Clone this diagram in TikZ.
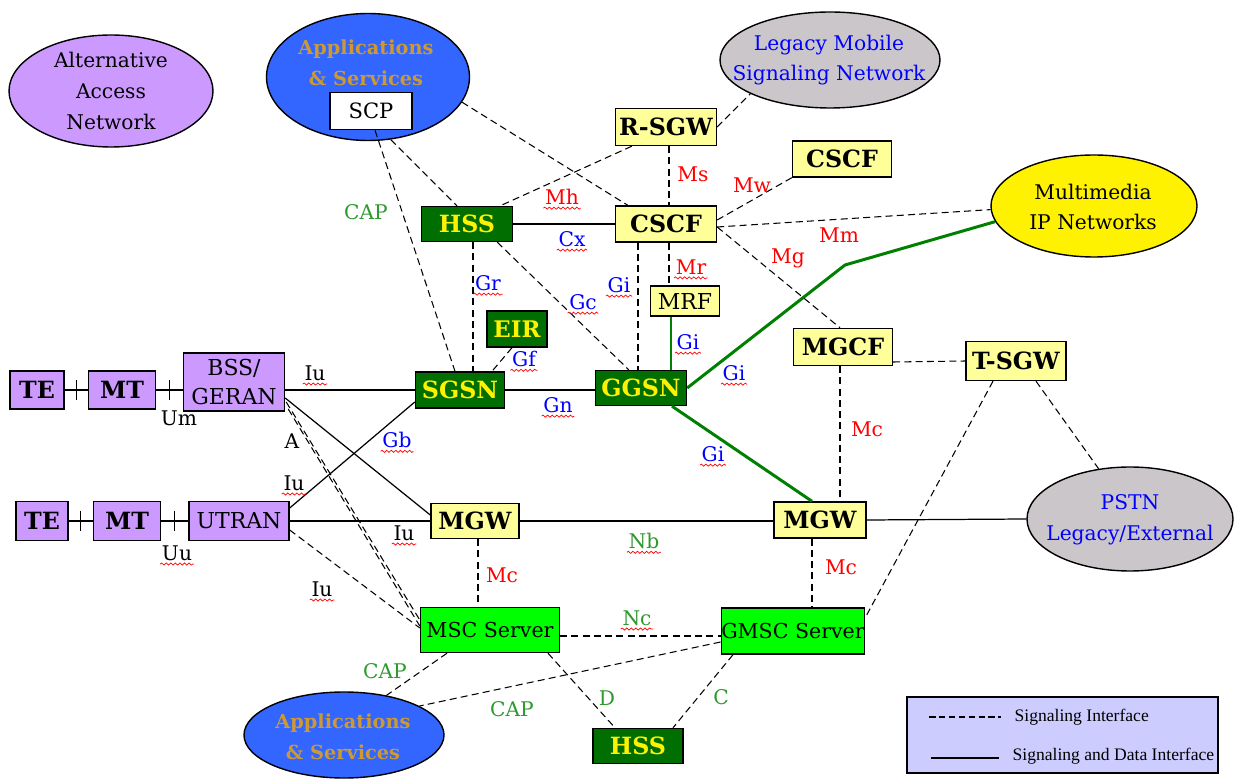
\documentclass[tikz,border=0pt]{standalone}
\usepackage{fontspec}
\setmainfont{DejaVu Serif}
\newfontfamily\legendfont{Liberation Serif}
\usetikzlibrary{shapes.geometric,decorations.pathmorphing,calc}

\definecolor{lilac}{HTML}{CC99FF}
\definecolor{paleyel}{HTML}{FFFF99}
\definecolor{darkgrn}{HTML}{006E00}
\definecolor{brightgrn}{HTML}{00FF00}
\definecolor{appblue}{HTML}{3366FF}
\definecolor{appgold}{HTML}{CC9933}
\definecolor{legacygray}{HTML}{CAC6CA}
\definecolor{legendbg}{HTML}{CCCCFF}
\definecolor{linkgrn}{HTML}{008000}
\definecolor{lblred}{HTML}{FF0000}
\definecolor{lblblue}{HTML}{0000FF}
\definecolor{lblgrn}{HTML}{2E9A2E}

\newcommand\ptsize[2]{\fontsize{#1}{#2}\selectfont}

\tikzset{
  box/.style={draw, line width=0.8pt, inner sep=0pt, align=center},
  sz/.style 2 args={minimum width=#1*0.02cm, minimum height=#2*0.02cm},
  boldtxt/.style={font=\bfseries\ptsize{13.5}{16}},
  regtxt/.style={font=\ptsize{12.5}{16.5}},
  purplebox/.style={box, fill=lilac},
  palebox/.style={box, fill=paleyel},
  darkbox/.style={box, fill=darkgrn, text=yellow, font=\bfseries\ptsize{13.5}{16}},
  mscbox/.style={box, fill=brightgrn, font=\ptsize{11.7}{14}},
  blob/.style={ellipse, draw, line width=0.8pt, inner sep=0pt},
  blobtxt/.style={align=center, inner sep=0pt, font=\ptsize{11.5}{17.5}},
  apptxt/.style={blobtxt, text=appgold, font=\bfseries\ptsize{11}{17.5}},
  sig/.style={draw, line width=0.6pt, dash pattern=on 4pt off 2.4pt},
  data/.style={draw, line width=0.7pt},
  gilink/.style={draw=linkgrn, line width=1.7pt},
  lbl/.style={inner sep=0.8pt, font=\ptsize{11.5}{13}},
  rlab/.style={lbl, text=lblred},
  blab/.style={lbl, text=lblblue},
  glab/.style={lbl, text=lblgrn},
  klab/.style={lbl, text=black},
  wavy/.style={draw=lblred, line width=0.4pt, decorate,
    decoration={snake, amplitude=0.6pt, segment length=2.6pt}},
  spell/.style={append after command={([yshift=-1pt]\tikzlastnode.south west)
    edge[wavy] ([yshift=-1pt]\tikzlastnode.south east)}}
}

\begin{document}
\begin{tikzpicture}[x=0.02cm, y=-0.02cm]
\fill[white] (0,0) rectangle (1255,780);
\useasboundingbox (0,0) rectangle (1255,780);

% ---------- clouds ----------
\node[blob, fill=lilac, sz={204}{112}] (aan) at (111,91) {};
\node[blobtxt] (aant) at (111,91) {Alternative\\Access\\Network};

\node[blob, fill=appblue, sz={203}{127}] (apps1) at (368,77) {};
\node[apptxt] (apps1t) at (366,63) {Applications\\\& Services};
\node[box, fill=white, sz={82}{37}, font=\ptsize{12}{14}] (scp) at (371,111) {SCP};

\node[blob, fill=legacygray, sz={220}{96}] (legacy) at (830,60) {};
\node[blobtxt, text=lblblue] (legacyt) at (829,60) {Legacy Mobile\\Signaling Network};

\node[blob, fill=yellow, sz={206}{102}] (multi) at (1094,206) {};
\node[blobtxt] (multit) at (1093,207) {Multimedia\\IP Networks};

\node[blob, fill=legacygray, sz={206}{104}] (pstn) at (1130,519) {};
\node[blobtxt, text=lblblue] (pstnt) at (1130,520) {PSTN\\Legacy/External};

\node[blob, fill=appblue, sz={200}{86}] (apps2) at (344,735) {};
\node[apptxt] (apps2t) at (343,737) {Applications\\\& Services};

% ---------- access side ----------
\node[purplebox, boldtxt, sz={54}{38}] (te1) at (37,390) {TE};
\node[purplebox, boldtxt, sz={67}{38}] (mt1) at (122,390) {MT};
\node[purplebox, regtxt, sz={101}{58}] (bss) at (234,382) {BSS/\\GERAN};
\node[purplebox, boldtxt, sz={52}{39}] (te2) at (42,521) {TE};
\node[purplebox, boldtxt, sz={67}{39}] (mt2) at (127,521) {MT};
\node[purplebox, regtxt, sz={100}{39}] (utran) at (239,521) {UTRAN};

% ---------- core boxes ----------
\node[darkbox, sz={91}{35}] (hss1) at (467,224) {HSS};
\node[darkbox, sz={60}{36}, font=\bfseries\ptsize{13}{15}] (eir) at (517,329) {EIR};
\node[darkbox, sz={89}{36}] (sgsn) at (460,390) {SGSN};
\node[darkbox, sz={91}{35}] (ggsn) at (641,388) {GGSN};
\node[darkbox, sz={90}{35}] (hss2) at (638,746) {HSS};

\node[palebox, boldtxt, sz={101}{37}] (rsgw) at (666,127) {R-SGW};
\node[palebox, boldtxt, sz={99}{36}] (cscf2) at (842,159) {CSCF};
\node[palebox, boldtxt, sz={101}{36}] (cscf) at (666,224) {CSCF};
\node[palebox, regtxt, sz={69}{30}] (mrf) at (685,301) {MRF};
\node[palebox, boldtxt, sz={99}{37}] (mgcf) at (843,347) {MGCF};
\node[palebox, boldtxt, sz={100}{39}] (tsgw) at (1016,361) {T-SGW};
\node[palebox, boldtxt, sz={88}{35}] (mgw1) at (475,521) {MGW};
\node[palebox, boldtxt, sz={92}{36}] (mgw2) at (820,520) {MGW};

\node[mscbox, sz={139}{45}] (msc) at (490,630) {MSC Server};
\node[mscbox, sz={143}{46}] (gmsc) at (793,631) {GMSC Server};

% ---------- radio links with their ticks ----------
\draw[data] (te1) -- (mt1);
\draw[data] (mt1.east) -- (mt1.east -| bss.west);
\draw[data] (te2) -- (mt2);
\draw[data] (mt2) -- (utran);
\draw[data] ($(te1.east)!.5!(mt1.west)$) ++(0,-10) -- ++(0,20);
\draw[data] ($(mt1.east)!.5!(mt1.east -| bss.west)$) ++(0,-10) -- ++(0,20);
\draw[data] ($(te2.east)!.5!(mt2.west)$) ++(0,-10) -- ++(0,20);
\draw[data] ($(mt2.east)!.5!(utran.west)$) ++(0,-10) -- ++(0,20);

% ---------- signaling and data links ----------
\draw[data] (sgsn.west -| bss.east) -- (sgsn.west);
\draw[data] ($(bss.east)+(0,16)$) -- ($(mgw1.west)+(0,-6)$);
\draw[data] ($(utran.east)+(0,-13)$) -- ($(sgsn.west)+(0,12)$);
\draw[data] (utran.east) -- (mgw1.west);
\draw[data] (hss1.east) -- (cscf.west);
\draw[data] (sgsn.east) -- (sgsn.east -| ggsn.west);
\draw[data] (mgw1.east) -- (mgw1.east -| mgw2.west);
\draw[data] (mgw2.east) -- (pstn.west);

% ---------- Gi links ----------
\coordinate (gibend) at (845,265);
\draw[gilink] ($(mrf.south)+(-14,0)$) -- ($(ggsn.north)+(30,0)$);
\draw[gilink] (ggsn.east) -- (gibend) -- (multi.-171);
\draw[gilink] ($(ggsn.south)+(31,0)$) -- ($(mgw2.north)+(-8,0)$);

% ---------- signaling links ----------
\draw[sig] ($(bss.east)+(1,20)$) -- ($(msc.west)+(0,-10)$);
\draw[sig] ($(bss.east)+(3,27)$) -- ($(msc.west)+(0,-4)$);
\draw[sig] ($(utran.east)+(0,9)$) -- ($(msc.west)+(0,-2)$);
\draw[sig] ($(scp.south)+(4,0)$) -- ($(sgsn.north)+(-5,0)$);
\draw[sig] (apps1.-70) -- ($(hss1.north)+(-10,0)$);
\draw[sig] (apps1.-15) -- ($(cscf.north west)+(13,0)$);
\draw[sig] ($(rsgw.south west)+(17,0)$) -- ($(hss1.north east)+(-13,0)$);
\draw[sig] (rsgw.east) -- (legacy.-157);
\draw[sig] ($(rsgw.south)+(3,0)$) -- ($(cscf.north)+(3,0)$);
\draw[sig] ($(cscf.east)+(0,-4)$) -- (cscf2.south west);
\draw[sig] ($(cscf.east)+(0,3)$) -- (multi.-178);
\draw[sig] ($(cscf.east)+(0,3)$) -- ($(mgcf.north)+(-3,0)$);
\draw[sig] ($(hss1.south)+(6,0)$) -- ($(sgsn.north)+(13,0)$);
\draw[sig] ($(hss1.south east)+(-16,0)$) -- ($(ggsn.north west)+(34,0)$);
\draw[sig] ($(cscf.south)+(-28,0)$) -- ($(ggsn.north)+(-3,0)$);
\draw[sig] ($(cscf.south)+(3,0)$) -- ($(mrf.north)+(-16,0)$);
\draw[sig] ($(eir.south)+(-5,0)$) -- ($(sgsn.north)+(32,0)$);
\draw[sig] ($(mgcf.east)+(0,15)$) -- (tsgw.west);
\draw[sig] ($(mgcf.south)+(-3,0)$) -- ($(mgw2.north)+(20,0)$);
\draw[sig] ($(tsgw.south)+(20,0)$) -- (pstn.122);
\draw[sig] ($(tsgw.south)+(-23,0)$) -- ($(gmsc.north east)+(0,10)$);
\draw[sig] ($(mgw1.south)+(3,0)$) -- ($(msc.north)+(-12,0)$);
\draw[sig] ($(mgw2.south)+(-8,0)$) -- ($(gmsc.north)+(19,0)$);
\draw[sig] ($(msc.east)+(0,6)$) -- ($(gmsc.west)+(0,5)$);
\draw[sig] ($(msc.south)+(-43,0)$) -- (apps2.43);
\draw[sig] ($(gmsc.west)+(0,11)$) -- (apps2.21);
\draw[sig] ($(msc.south)+(58,0)$) -- ($(hss2.north)+(-23,0)$);
\draw[sig] ($(gmsc.south)+(-60,0)$) -- ($(hss2.north)+(35,0)$);

% ---------- interface labels ----------
\node[klab] (lUm) at (179,418) {Um};
\node[klab, spell] (lUu) at (177,553) {Uu};
\node[klab, spell] (lIu1) at (315,373) {Iu};
\node[klab] (lA) at (292,441) {A};
\node[klab, spell] (lIu2) at (294,483) {Iu};
\node[blab, spell] (lGb) at (397,440) {Gb};
\node[klab, spell] (lIu3) at (404,533) {Iu};
\node[klab, spell] (lIu4) at (322,589) {Iu};
\node[glab] (lCAP1) at (366,212) {CAP};
\node[rlab, spell] (lMh) at (562,197) {Mh};
\node[rlab] (lMs) at (693,174) {Ms};
\node[rlab] (lMw) at (752,185) {Mw};
\node[blab, spell] (lCx) at (572,239) {Cx};
\node[rlab] (lMm) at (839,235) {Mm};
\node[rlab] (lMg) at (788,258) {Mg};
\node[blab, spell] (lGr) at (488,283) {Gr};
\node[blab, spell] (lGc) at (583,302) {Gc};
\node[blab, spell] (lGi1) at (619,285) {Gi};
\node[rlab, spell] (lMr) at (691,267) {Mr};
\node[blab, spell] (lGi2) at (688,342) {Gi};
\node[blab, spell] (lGf) at (524,359) {Gf};
\node[blab, spell] (lGn) at (558,405) {Gn};
\node[blab, spell] (lGi3) at (734,373) {Gi};
\node[blab, spell] (lGi4) at (713,454) {Gi};
\node[rlab] (lMc1) at (867,429) {Mc};
\node[glab, spell] (lNb) at (644,541) {Nb};
\node[rlab] (lMc2) at (502,575) {Mc};
\node[rlab] (lMc3) at (841,567) {Mc};
\node[glab, spell] (lNc) at (637,618) {Nc};
\node[glab] (lCAP2) at (385,671) {CAP};
\node[glab] (lCAP3) at (512,709) {CAP};
\node[glab] (lD) at (607,698) {D};
\node[glab] (lC) at (721,697) {C};

% ---------- legend ----------
\node[box, fill=legendbg, sz={311}{76}] (legend) at (1062.5,735) {};
\draw[draw, line width=0.65pt, dash pattern=on 3.6pt off 2pt]
  ($(legend.west)+(23,-18)$) -- ($(legend.west)+(95,-18)$);
\draw[data] ($(legend.west)+(25,23)$) -- ($(legend.west)+(93,23)$);
\node[anchor=west, inner sep=0pt, font=\legendfont\ptsize{10}{11}] (lg1)
  at ($(legend.west)+(108,-18)$) {Signaling Interface};
\node[anchor=west, inner sep=0pt, font=\legendfont\ptsize{10}{11}] (lg2)
  at ($(legend.west)+(106,21)$) {Signaling and Data Interface};
\end{tikzpicture}
\end{document}
